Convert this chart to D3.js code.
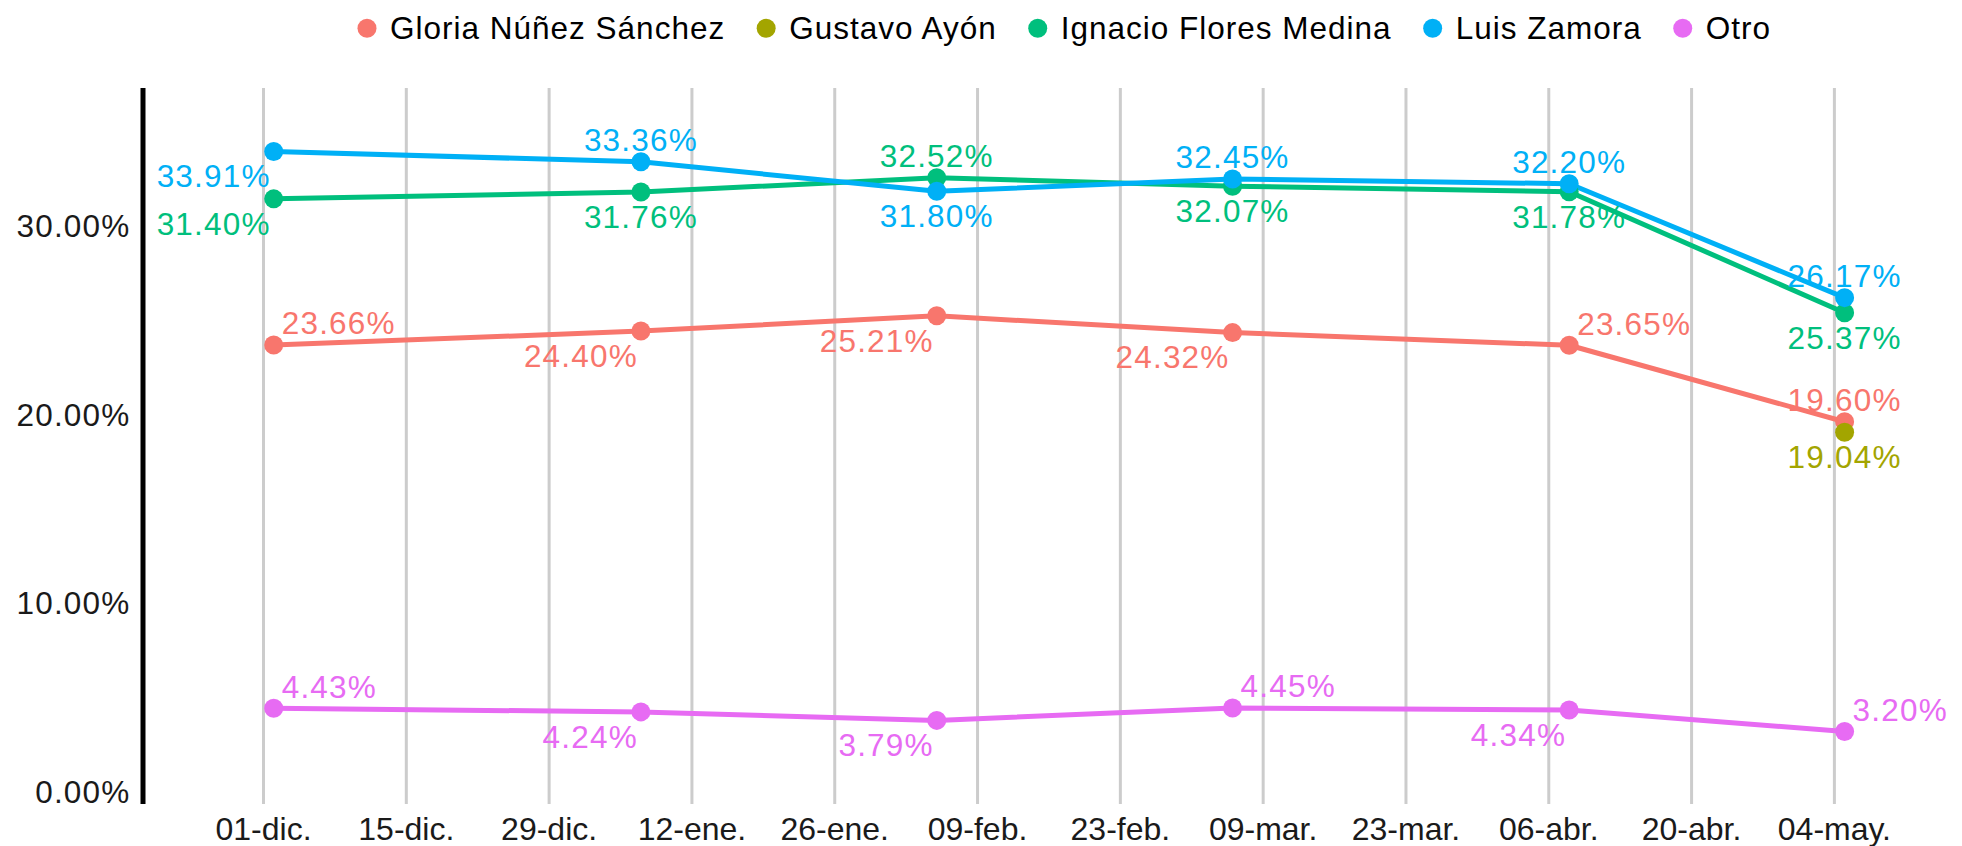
<!DOCTYPE html>
<html>
<head>
<meta charset="utf-8">
<title>Encuestas</title>
<script src="https://cdn.jsdelivr.net/npm/d3@7"></script>
<style>
	body { margin: 0; background: #fff; }
	svg { display: block; }
	text { font-family: "Liberation Sans", Arial, sans-serif; }
	.lbl { font-size: 31.5px; letter-spacing: 1.2px; }
	.ytick { font-size: 31.5px; letter-spacing: 1.2px; fill: #1a1a1a; }
	.xtick { font-size: 32px; fill: #1a1a1a; }
	.legend text { font-size: 31.5px; letter-spacing: 1px; fill: #000; }
</style>
</head>
<body>
<svg id="chart" width="1962" height="846"></svg>
<script>

// survey dates and results (percent)
var dates = ["2017-12-02", "2018-01-07", "2018-02-05", "2018-03-06", "2018-04-08", "2018-05-05"];
var names = ["Gloria Núñez Sánchez", "Gustavo Ayón", "Ignacio Flores Medina", "Luis Zamora", "Otro"];
var colors = ["#F8766D", "#A3A500", "#00BF7D", "#00B0F6", "#E76BF3"];

var gloria  = [23.66, 24.40, 25.21, 24.32, 23.65, 19.60];
var gustavo = [null, null, null, null, null, 19.04];
var ignacio = [31.40, 31.76, 32.52, 32.07, 31.78, 25.37];
var luis    = [33.91, 33.36, 31.80, 32.45, 32.20, 26.17];
var otro    = [4.43, 4.24, 3.79, 4.45, 4.34, 3.20];

var yTicks = [0, 10, 20, 30];
var monthsEs = ["ene", "feb", "mar", "abr", "may", "jun", "jul", "ago", "sep", "oct", "nov", "dic"];

// where each value label sits relative to its point
var labelSide = [
	["NE", "SW", "SW", "SW", "NE", "N"],
	[null, null, null, null, null, "S"],
	["SW", "S", "N", "S", "S", "S"],
	["SW", "N", "S", "N", "N", "N"],
	["NE", "SW", "SW", "NE", "SW", "NE"]
];

var series = [gloria, gustavo, ignacio, luis, otro];

var parse = d3.utcParse("%Y-%m-%d");
var svg = d3.select("#chart");

var x = d3.scaleUtc()
	.domain([parse("2017-12-01"), parse("2018-05-04")])
	.range([263.5, 1834.4]);

var y = d3.scaleLinear()
	.domain([0, 30])
	.range([792, 225.3]);

var plotTop = 88, plotBottom = 804, plotLeft = 143;

// vertical grid
var ticks = d3.utcDay.range(parse("2017-12-01"), parse("2018-05-05"), 14);
svg.append("g").selectAll("line")
	.data(ticks).enter()
	.append("line")
		.attr("x1", function(d){ return x(d); })
		.attr("x2", function(d){ return x(d); })
		.attr("y1", plotTop)
		.attr("y2", plotBottom)
		.attr("stroke", "#cccccc")
		.attr("stroke-width", 3);

svg.append("g").selectAll("text")
	.data(ticks).enter()
	.append("text").attr("class", "xtick")
		.attr("x", function(d){ return x(d); })
		.attr("y", 840)
		.attr("text-anchor", "middle")
		.text(function(d){
			return d3.utcFormat("%d")(d) + "-" + monthsEs[d.getUTCMonth()] + ".";
		});

// y axis
svg.append("line")
	.attr("x1", plotLeft).attr("x2", plotLeft)
	.attr("y1", plotTop).attr("y2", plotBottom)
	.attr("stroke", "#000").attr("stroke-width", 5);

svg.append("g").selectAll("text")
	.data(yTicks).enter()
	.append("text").attr("class", "ytick")
		.attr("x", 130.5)
		.attr("y", function(d){ return y(d); })
		.attr("dy", "0.36em")
		.attr("text-anchor", "end")
		.text(function(d){ return d3.format(".2f")(d) + "%"; });

// lines, points, labels
var rows = series.map(function(vals, s){
	return vals.map(function(v, i){
		return {s: s, i: i, date: parse(dates[i]), v: v, side: labelSide[s][i]};
	}).filter(function(d){ return d.v !== null; });
});

var line = d3.line()
	.x(function(d){ return x(d.date); })
	.y(function(d){ return y(d.v); });

svg.append("g").selectAll("path")
	.data(rows).enter()
	.append("path")
		.attr("d", line)
		.attr("fill", "none")
		.attr("stroke", function(d, s){ return colors[s]; })
		.attr("stroke-width", 5)
		.attr("stroke-linejoin", "round");

var flat = [].concat.apply([], rows);

svg.append("g").selectAll("circle")
	.data(flat).enter()
	.append("circle")
		.attr("cx", function(d){ return x(d.date); })
		.attr("cy", function(d){ return y(d.v); })
		.attr("r", 9.5)
		.attr("fill", function(d){ return colors[d.s]; });

var offsets = {
	N:  {dx: 0,  dy: -22, anchor: "middle"},
	S:  {dx: 0,  dy: 24.5, anchor: "middle"},
	NE: {dx: 8,  dy: -22, anchor: "start"},
	SW: {dx: -3, dy: 24.5, anchor: "end"}
};

svg.append("g").selectAll("text")
	.data(flat).enter()
	.append("text").attr("class", "lbl")
		.attr("x", function(d){ return x(d.date) + offsets[d.side].dx; })
		.attr("y", function(d){ return y(d.v) + offsets[d.side].dy; })
		.attr("dy", "0.36em")
		.attr("text-anchor", function(d){ return offsets[d.side].anchor; })
		.attr("fill", function(d){ return colors[d.s]; })
		.text(function(d){ return d3.format(".2f")(d.v) + "%"; });

// legend, laid out from measured text widths and centred
var legend = svg.append("g").attr("class", "legend");
var cursor = 0;
names.forEach(function(n, k){
	var g = legend.append("g");
	g.append("circle").attr("cx", cursor + 9).attr("cy", 28.3).attr("r", 9.5).attr("fill", colors[k]);
	var t = g.append("text").attr("x", cursor + 32).attr("y", 39).text(n);
	cursor = cursor + 32 + t.node().getComputedTextLength() + 32;
});
var legendWidth = cursor - 32;
legend.attr("transform", "translate(" + (1064.5 - legendWidth / 2) + ",0)");

</script>
</body>
</html>
